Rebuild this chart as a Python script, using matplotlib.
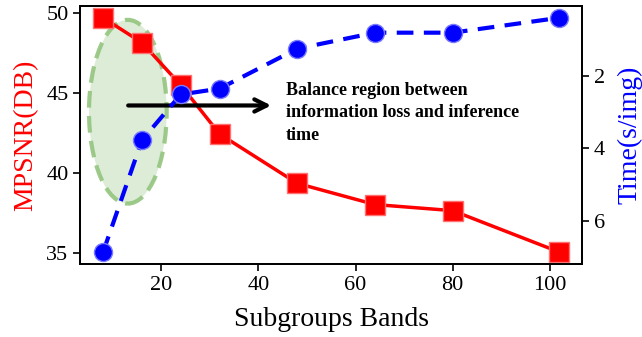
import matplotlib
matplotlib.use("Agg")
import matplotlib.pyplot as plt
from matplotlib.patches import Ellipse

plt.rcParams['font.family'] = ['Liberation Serif', 'DejaVu Serif']

# subgroup band counts and the two measured curves
bands = [8, 16, 24, 32, 48, 64, 80, 102]
mpsnr = [49.7, 48.15, 45.5, 42.45, 39.37, 38.05, 37.67, 35.08]
times = [6.86, 3.78, 2.52, 2.36, 1.26, 0.82, 0.82, 0.41]

fig, ax = plt.subplots(figsize=(6.42, 3.37), dpi=100)
fig.subplots_adjust(left=0.125, right=0.907, top=0.982, bottom=0.217)

ax.plot(bands, mpsnr, color='red', lw=2.5, marker='s', ms=14,
        mfc='red', mec='#ff7070', mew=1.0, zorder=3)
ax.set_ylabel('MPSNR(DB)', color='red', fontsize=20, labelpad=6)
ax.set_xlabel('Subgroups Bands', fontsize=20, labelpad=9)
ax.set_yticks([35, 40, 45, 50])
ax.tick_params(labelsize=16, width=1.2, length=5)

ax2 = ax.twinx()
ax2.plot(bands, times, color='blue', lw=3, ls=(0, (4, 2.5)), marker='o', ms=13,
         mfc='blue', mec='#7a7aff', mew=1.0, zorder=3)
ax2.invert_yaxis()
ax2.set_yticks([2, 4, 6])
ax2.set_ylabel('Time(s/img)', color='blue', fontsize=20, labelpad=9)
ax2.tick_params(labelsize=16, width=1.2, length=5)

for a in (ax, ax2):
    for s in a.spines.values():
        s.set_linewidth(1.3)

# highlighted region with arrow and note
ell = Ellipse((13.1, 43.84), 16, 11.46, facecolor='#d9ead3', alpha=0.9,
              edgecolor='#93c47d', lw=3, ls=(0, (4, 2)), zorder=1)
ax.add_patch(ell)
ax.annotate('', xy=(43.2, 44.23), xytext=(12.6, 44.23),
            arrowprops=dict(arrowstyle='->', color='black', lw=3,
                            mutation_scale=22), zorder=4)
ax.text(45.7, 45.68, 'Balance region between\ninformation loss and inference\ntime',
        fontsize=13, fontweight='bold', va='top', ha='left', linespacing=1.4)

fig.savefig('out.png', dpi=100)
